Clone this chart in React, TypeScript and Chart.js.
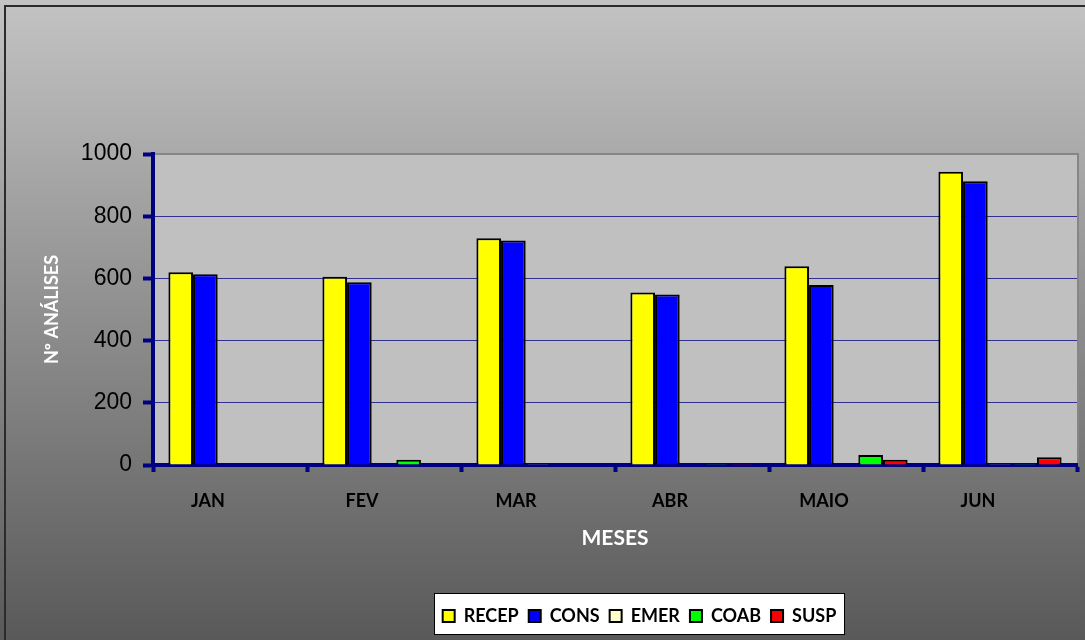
import React, { useEffect, useRef } from 'react';
import { Chart, registerables } from 'chart.js';

Chart.register(...registerables);

const months = ['JAN', 'FEV', 'MAR', 'ABR', 'MAIO', 'JUN'];
const recep = [620, 605, 729, 555, 639, 943];
const cons = [613, 588, 722, 548, 579, 912];
const emer = [0, 0, 3, 0, 0, 3];
const coab = [0, 17, 0, 3, 32, 3];
const susp = [0, 0, 0, 3, 17, 25];
const yTicks = [0, 200, 400, 600, 800, 1000];

const LEGEND_SHIFT = 101;

export default function App() {
  const ref = useRef<HTMLCanvasElement>(null);

  useEffect(() => {
    document.body.style.margin = '0';
    const canvas = ref.current!;

    const bgPlugin = {
      id: 'bgPlugin',
      afterLayout(chart: any) {
        const lg = chart.legend;
        if (lg) {
          lg.left += LEGEND_SHIFT;
          lg.right += LEGEND_SHIFT;
        }
      },
      beforeDraw(chart: any) {
        const { ctx, width, height, chartArea: ca } = chart;
        ctx.save();
        const g = ctx.createLinearGradient(0, 0, 0, height);
        g.addColorStop(0, '#c3c3c3');
        g.addColorStop(1, '#595959');
        ctx.fillStyle = g;
        ctx.fillRect(0, 0, width, height);
        // outer border (top & left visible)
        ctx.strokeStyle = '#2b2b2b';
        ctx.lineWidth = 2;
        ctx.strokeRect(5, 6, width + 20, height + 20);
        // plot area
        ctx.fillStyle = '#c0c0c0';
        ctx.fillRect(ca.left, ca.top, ca.right - ca.left, ca.bottom - ca.top);
        ctx.strokeStyle = '#868686';
        ctx.lineWidth = 2;
        ctx.beginPath();
        ctx.moveTo(ca.left, ca.top);
        ctx.lineTo(ca.right + 1, ca.top);
        ctx.lineTo(ca.right + 1, ca.bottom);
        ctx.stroke();
        // legend box
        const lg = chart.legend;
        const hb = lg && lg.legendHitBoxes;
        if (hb && hb.length) {
          const first = hb[0];
          const last = hb[hb.length - 1];
          const x0 = Math.round(first.left - 9);
          const x1 = Math.round(last.left + last.width + 9);
          const y0 = Math.round(first.top - 14);
          const y1 = Math.round(first.top + first.height + 10);
          ctx.fillStyle = '#ffffff';
          ctx.fillRect(x0, y0, x1 - x0, y1 - y0);
          ctx.strokeStyle = '#000000';
          ctx.lineWidth = 1;
          ctx.strokeRect(x0 + 0.5, y0 + 0.5, x1 - x0 - 1, y1 - y0 - 1);
        }
        ctx.restore();
      },
    };

    const mk = (label: string, data: number[], color: string) => ({
      label,
      data,
      backgroundColor: color,
      borderColor: '#000000',
      borderWidth: 2,
    });

    const chart = new Chart(canvas, {
      type: 'bar',
      data: {
        labels: months,
        datasets: [
          mk('RECEP', recep, '#ffff00'),
          mk('CONS', cons, '#0000ff'),
          mk('EMER', emer, '#ffffcc'),
          mk('COAB', coab, '#00ff00'),
          mk('SUSP', susp, '#ff0000'),
        ],
      },
      options: {
        responsive: false,
        animation: false,
        layout: { padding: { top: 154, right: 8, bottom: 5, left: 0 } },
        datasets: { bar: { categoryPercentage: 0.8, barPercentage: 1 } } as any,
        plugins: {
          legend: {
            position: 'bottom',
            labels: {
              boxWidth: 12,
              boxHeight: 12,
              padding: 10,
              color: '#000000',
              font: { family: 'Lato', weight: 'bold', size: 18 },
            },
          },
          tooltip: { enabled: false },
        },
        scales: {
          x: {
            z: 1,
            grid: {
              display: true,
              drawOnChartArea: false,
              drawTicks: true,
              tickLength: 7,
              tickWidth: 4,
              tickColor: '#000080',
              offset: true,
            },
            border: { display: true, color: '#000080', width: 4 },
            ticks: {
              color: '#000000',
              font: { family: 'Lato', weight: 'bold', size: 18 },
              padding: 18,
              labelOffset: -22,
              maxRotation: 0,
            },
            title: {
              display: true,
              text: 'MESES',
              color: '#ffffff',
              font: { family: 'Lato', weight: 'bold', size: 21 },
              padding: { top: 0, bottom: 46 },
            },
            afterFit(scale: any) {
              scale.height = 132;
            },
          },
          y: {
            min: 0,
            max: 1000,
            afterBuildTicks(scale: any) {
              scale.ticks = yTicks.map((v) => ({ value: v }));
            },
            ticks: {
              color: '#000000',
              font: { family: 'Liberation Sans', size: 23 },
              padding: 11,
              callback: (v: any) => String(v),
            },
            grid: {
              color: (c: any) =>
                c.tick && (c.tick.value === 0 || c.tick.value === 1000) ? 'rgba(0,0,0,0)' : '#30308f',
              lineWidth: 1,
              tickLength: 10,
              tickWidth: 4,
              tickColor: '#000080',
            },
            border: { color: '#000080', width: 4 },
            title: {
              display: true,
              text: 'Nº ANÁLISES',
              color: '#ffffff',
              font: { family: 'Lato', weight: 'bold', size: 18 },
              padding: { top: 41, bottom: 0 },
            },
            afterFit(scale: any) {
              scale.width = 153;
            },
          },
        },
      } as any,
      plugins: [bgPlugin],
    });

    return () => chart.destroy();
  }, []);

  return <canvas ref={ref} width={1085} height={640} style={{ display: 'block' }} />;
}
